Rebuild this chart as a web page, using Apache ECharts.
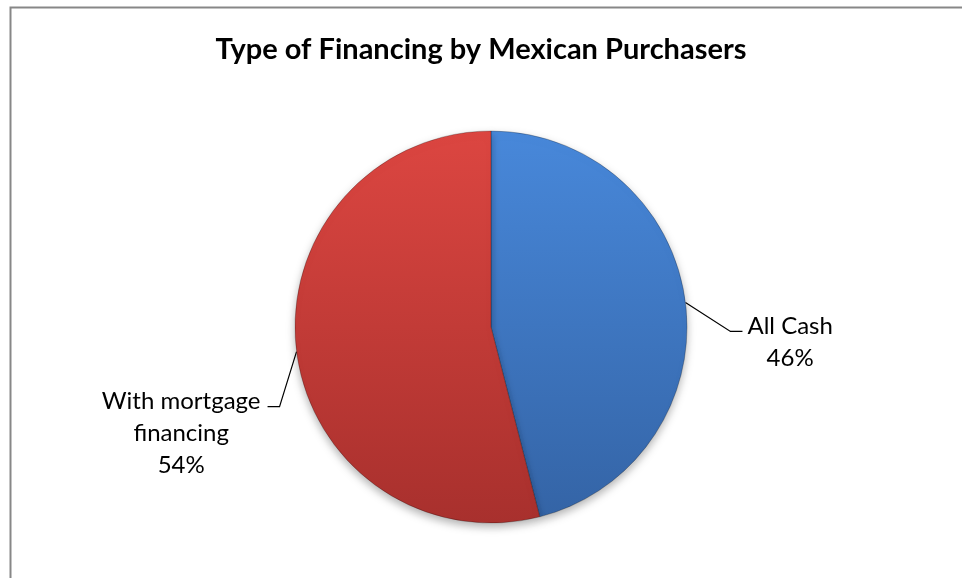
<!DOCTYPE html>
<html><head><meta charset="utf-8">
<script src="https://cdn.jsdelivr.net/npm/echarts@6/dist/echarts.min.js"></script>
<style>html,body{margin:0;padding:0;background:#fff}#c{width:962px;height:578px}</style>
</head><body><div id="c"></div>
<script>
const titleText = 'Type of Financing by Mexican Purchasers';
const categories = ['All Cash', 'With mortgage\nfinancing'];
const values = [46, 54];

const colorsTop = ['#4888da', '#dc4641'];
const colorsBottom = ['#3464a6', '#a8302d'];
// label line elbow offsets (style): first segment dx, dy; then horizontal length
const elbow = [[45, 29], [-17, 55]];
const elbowLen = 12;

const chart = echarts.init(document.getElementById('c'), null, {renderer: 'canvas'});
const FONT = 'Lato';
const data = categories.map((c, i) => ({
  name: c,
  value: values[i],
  itemStyle: {
    color: new echarts.graphic.LinearGradient(0, 0, 0, 1, [
      {offset: 0, color: colorsTop[i]},
      {offset: 1, color: colorsBottom[i]}
    ])
  }
}));

chart.setOption({
  animation: false,
  backgroundColor: '#fff',
  title: {
    text: titleText,
    left: 'center',
    top: 30,
    textStyle: {fontFamily: FONT, fontWeight: 'bold', fontSize: 29, color: '#000'}
  },
  graphic: [{
    type: 'rect',
    shape: {x: 10.5, y: 7.5, width: 1000, height: 700},
    style: {fill: 'none', stroke: '#878787', lineWidth: 2},
    silent: true
  }],
  series: [{
    type: 'pie',
    center: [491, 327],
    radius: [0, 196],
    startAngle: 90,
    clockwise: true,
    data: data,
    itemStyle: {
      borderColor: 'rgba(0,0,0,0.35)',
      borderWidth: 0.7,
      shadowBlur: 8,
      shadowOffsetY: 4,
      shadowColor: 'rgba(0,0,0,0.3)'
    },
    label: {
      show: true,
      position: 'outside',
      color: '#000',
      fontFamily: FONT,
      fontSize: 24,
      lineHeight: 32,
      formatter: function (p) {
        return (p.name + '\n' + Math.round(p.percent) + '%').split('\n').map(l => '{c|' + l + '}').join('\n');
      },
      rich: {c: {align: 'center', fontFamily: FONT, fontSize: 24, lineHeight: 32, color: '#000'}}
    },
    labelLine: {
      show: true,
      length: 30,
      length2: 12,
      lineStyle: {color: '#000', width: 1.2}
    },
    labelLayout: function (params) {
      const i = params.dataIndex;
      const p0 = params.labelLinePoints[0];
      const p1 = [p0[0] + elbow[i][0], p0[1] + elbow[i][1]];
      const right = elbow[i][0] > 0;
      const p2 = [p1[0] + (right ? elbowLen : -elbowLen), p1[1]];
      return {
        x: p2[0] + (right ? 5 : -7),
        y: p2[1] - 21,
        align: right ? 'left' : 'right',
        verticalAlign: 'top',
        labelLinePoints: [p0, p1, p2]
      };
    },
    emphasis: {disabled: true}
  }]
});
</script></body></html>
